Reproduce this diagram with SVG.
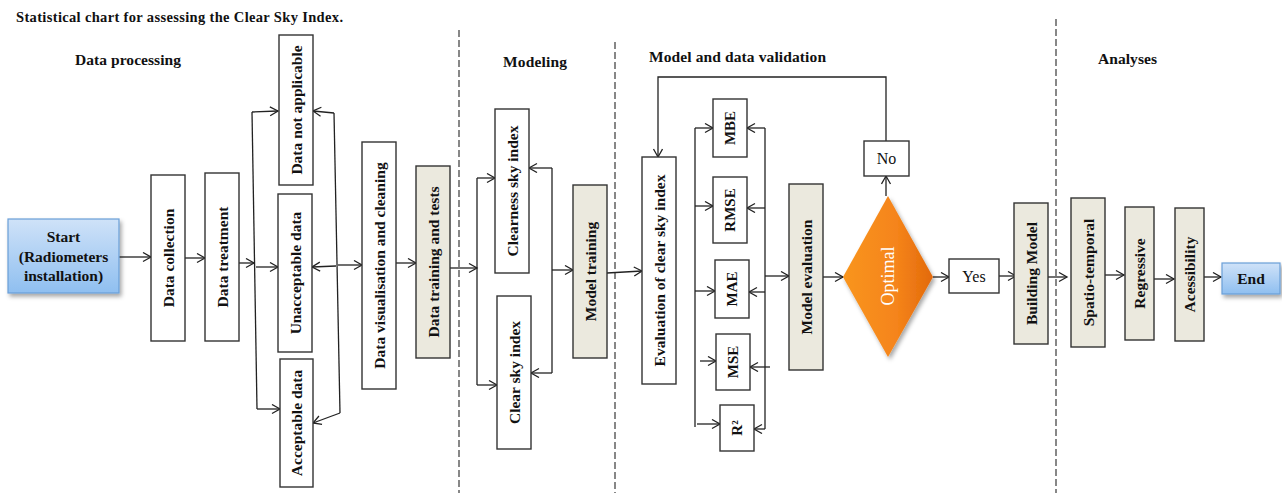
<svg xmlns="http://www.w3.org/2000/svg" width="1282" height="493" viewBox="0 0 1282 493">
<style>
text{font-family:"Liberation Serif","Times New Roman",serif;fill:#111}
.h{font-weight:bold;font-size:15.5px}
.t{font-weight:bold;font-size:14.5px}
.b{fill:#fff;stroke:#333;stroke-width:1.4}
.g{fill:#EBE9DE;stroke:#333;stroke-width:1.4}
.l{font-weight:bold;font-size:15.5px;text-anchor:middle;dominant-baseline:central}
.m{font-weight:bold;font-size:15px;text-anchor:middle;dominant-baseline:central}
.r{font-size:16px;text-anchor:middle;dominant-baseline:central}
.c path{fill:none;stroke:#222;stroke-width:1.3}
.a{marker-end:url(#ar)}
.d{stroke:#555;stroke-width:1.4;stroke-dasharray:7 3;fill:none}
</style>
<defs>
<marker id="ar" markerUnits="userSpaceOnUse" markerWidth="12" markerHeight="12" refX="9" refY="5" orient="auto">
<path d="M1,0.5 L9,5 L1,9.5" fill="none" stroke="#222" stroke-width="1.3"/>
</marker>
<linearGradient id="bl" x1="0" y1="0" x2="0" y2="1">
<stop offset="0" stop-color="#CFE2F8"/>
<stop offset="1" stop-color="#8FBFF0"/>
</linearGradient>
<linearGradient id="or" x1="0" y1="0" x2="1" y2="0">
<stop offset="0" stop-color="#F9951E"/>
<stop offset="0.6" stop-color="#F5841A"/>
<stop offset="1" stop-color="#E2690A"/>
</linearGradient>
<filter id="sh" x="-20%" y="-20%" width="150%" height="160%">
<feDropShadow dx="2" dy="3" stdDeviation="2" flood-color="#000" flood-opacity="0.35"/>
</filter>
</defs>

<text class="t" x="16" y="22" textLength="327">Statistical chart for assessing the Clear Sky Index.</text>
<text class="h" x="75" y="65" textLength="106">Data processing</text>
<text class="h" x="503" y="67" textLength="64">Modeling</text>
<text class="h" x="649" y="62" textLength="177">Model and data  validation</text>
<text class="h" x="1098" y="64" textLength="59">Analyses</text>

<g id="dividers">
<line class="d" x1="459" y1="30" x2="459" y2="493"/>
<line class="d" x1="615" y1="42" x2="615" y2="493"/>
<line class="d" x1="1056" y1="19" x2="1056" y2="493"/>
</g>

<g id="connectors" class="c">
<path class="a" d="M119,257 L151,257"/>
<path class="a" d="M185,258 L205,258"/>
<path class="a" d="M239,263 L254,263"/>
<path d="M252,112 L257,409"/>
<path class="a" d="M252,112 L278,111"/>
<path class="a" d="M256,267 L278,267"/>
<path class="a" d="M257,409 L280,409"/>
<path d="M334,113 L340,413"/>
<path class="a" d="M334,113 L313,111"/>
<path class="a" d="M336,266 L312,267"/>
<path class="a" d="M340,413 L313,423"/>
<path class="a" d="M338,265 L362,265"/>
<path class="a" d="M396,263 L416,263"/>
<path class="a" d="M450,268 L477,268"/>
<path d="M477,178 L477,385"/>
<path class="a" d="M477,178 L495,178"/>
<path class="a" d="M477,385 L497,385"/>
<path d="M552,168 L552,373"/>
<path class="a" d="M552,168 L529,168"/>
<path class="a" d="M552,373 L531,373"/>
<path class="a" d="M552,270 L573,270"/>
<path class="a" d="M607,273 L642,271"/>
<path class="a" d="M886,141 L886,77 L658,77 L658,157"/>
<path class="a" d="M886,196 L886,176"/>
<path d="M695,128 L695,427"/>
<path class="a" d="M695,128 L713,128"/>
<path class="a" d="M695,206 L713,206"/>
<path class="a" d="M695,291 L715,291"/>
<path class="a" d="M700,361 L716,361"/>
<path class="a" d="M697,424 L720,424"/>
<path class="a" d="M713,146 L731,146"/>
<path d="M765,128 L765,429"/>
<path class="a" d="M765,128 L747,128"/>
<path class="a" d="M765,208 L747,208"/>
<path class="a" d="M765,292 L749,292"/>
<path class="a" d="M770,367 L750,367"/>
<path class="a" d="M765,429 L754,429"/>
<path class="a" d="M765,276 L789,276"/>
<path class="a" d="M823,277 L843,277"/>
<path class="a" d="M933,277 L949,277"/>
<path class="a" d="M999,276 L1016,276"/>
<path class="a" d="M1048,277 L1067,277"/>
<path class="a" d="M1105,275 L1124,275"/>
<path class="a" d="M1154,279 L1174,279"/>
<path class="a" d="M1204,277 L1221,277"/>
</g>

<g id="start">
<rect x="8" y="219" width="111" height="74" fill="url(#bl)" stroke="#6A9FD8" stroke-width="1.2" filter="url(#sh)"/>
<text class="l" x="63.5" y="236">Start</text>
<text class="l" x="63.5" y="256">(Radiometers</text>
<text class="l" x="63.5" y="275">installation)</text>
</g>
<g id="data-collection"><rect class="b" x="151" y="175" width="34" height="166"/><text class="l" transform="translate(168,258) rotate(-90)">Data collection</text></g>
<g id="data-treatment"><rect class="b" x="205" y="173" width="34" height="168"/><text class="l" transform="translate(222,257) rotate(-90)">Data treatment</text></g>
<g id="data-not-applicable"><rect class="b" x="279" y="35" width="34" height="150"/><text class="l" transform="translate(296,110) rotate(-90)">Data not applicable</text></g>
<g id="unacceptable-data"><rect class="b" x="278" y="194" width="34" height="158"/><text class="l" transform="translate(295,273) rotate(-90)">Unacceptable data</text></g>
<g id="acceptable-data"><rect class="b" x="280" y="359" width="33" height="128"/><text class="l" transform="translate(296.5,423) rotate(-90)">Acceptable data</text></g>
<g id="data-visualisation"><rect class="b" x="362" y="142" width="34" height="247"/><text class="l" transform="translate(379,265.5) rotate(-90)">Data visualisation and cleaning</text></g>
<g id="data-training"><rect class="g" x="416" y="166" width="34" height="192"/><text class="l" transform="translate(433,262) rotate(-90)">Data training and tests</text></g>

<g id="clearness-sky-index"><rect class="b" x="495" y="109" width="34" height="164"/><text class="l" transform="translate(512,191) rotate(-90)">Clearness sky index</text></g>
<g id="clear-sky-index"><rect class="b" x="497" y="296" width="34" height="153"/><text class="l" transform="translate(514,372.5) rotate(-90)">Clear sky index</text></g>
<g id="model-training"><rect class="g" x="573" y="185" width="34" height="173"/><text class="l" transform="translate(590,271.5) rotate(-90)">Model training</text></g>

<g id="evaluation"><rect class="b" x="642" y="157" width="34" height="227"/><text class="l" transform="translate(659,270.5) rotate(-90)">Evaluation of clear sky index</text></g>
<g id="mbe"><rect class="b" x="713" y="99" width="34" height="58"/><text class="m" transform="translate(730,128) rotate(-90)">MBE</text></g>
<g id="rmse"><rect class="b" x="713" y="177" width="34" height="66"/><text class="m" transform="translate(730,210) rotate(-90)">RMSE</text></g>
<g id="mae"><rect class="b" x="715" y="260" width="34" height="58"/><text class="m" transform="translate(732,289) rotate(-90)">MAE</text></g>
<g id="mse"><rect class="b" x="716" y="334" width="34" height="56"/><text class="m" transform="translate(733,362) rotate(-90)">MSE</text></g>
<g id="r2"><rect class="b" x="720" y="405" width="34" height="46"/><text class="m" transform="translate(737,428) rotate(-90)">R²</text></g>
<g id="model-evaluation"><rect class="g" x="789" y="184" width="34" height="186"/><text class="l" transform="translate(806,277) rotate(-90)">Model evaluation</text></g>
<g id="optimal">
<polygon points="888,196 933,277 888,357 843,277" fill="url(#or)" filter="url(#sh)"/>
<text class="r" transform="translate(888,276) rotate(-90)" style="fill:#fff;font-size:18px">Optimal</text>
</g>
<g id="no"><rect class="b" x="864" y="141" width="45" height="35"/><text class="r" x="886.5" y="158.5">No</text></g>
<g id="yes"><rect class="b" x="949" y="259" width="50" height="34"/><text class="r" x="974" y="276">Yes</text></g>
<g id="building-model"><rect class="g" x="1014" y="203" width="34" height="141"/><text class="l" transform="translate(1031,273.5) rotate(-90)">Building Model</text></g>

<g id="spatio-temporal"><rect class="g" x="1071" y="198" width="34" height="149"/><text class="l" transform="translate(1088,272.5) rotate(-90)">Spatio-temporal</text></g>
<g id="regressive"><rect class="g" x="1125" y="207" width="29" height="133"/><text class="l" transform="translate(1139.5,273.5) rotate(-90)">Regressive</text></g>
<g id="acessibility"><rect class="g" x="1175" y="208" width="29" height="133"/><text class="l" transform="translate(1189.5,274.5) rotate(-90)">Acessibility</text></g>
<g id="end">
<rect x="1222" y="263" width="58" height="31" fill="url(#bl)" stroke="#6A9FD8" stroke-width="1.2" filter="url(#sh)"/>
<text class="l" x="1251" y="278.5">End</text>
</g>
</svg>
